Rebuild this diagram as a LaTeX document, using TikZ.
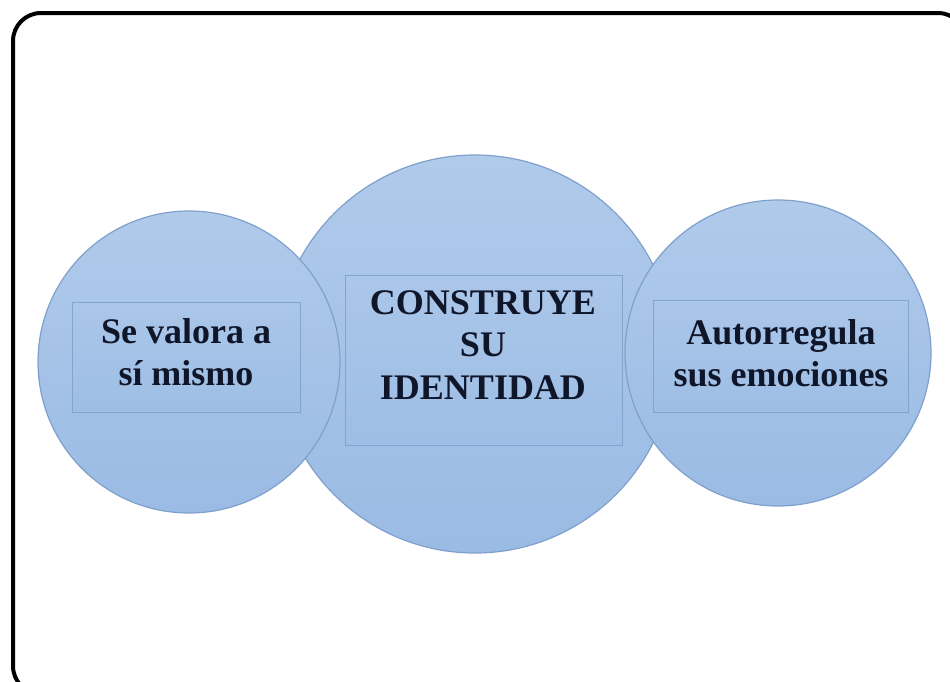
\documentclass[tikz,border=0pt]{standalone}
\usepackage{fontspec}
\setmainfont{Liberation Serif}
\definecolor{circtop}{RGB}{176,202,234}
\definecolor{circbot}{RGB}{154,187,228}
\definecolor{circedge}{RGB}{128,160,204}
\definecolor{recttop}{RGB}{170,198,233}
\definecolor{rectbot}{RGB}{158,190,229}
\definecolor{rectedge}{RGB}{132,164,208}
\definecolor{txt}{RGB}{16,22,42}
\begin{document}
\begin{tikzpicture}[x=1pt,y=-1pt,
  bubble/.style={circle,draw=circedge,line width=1.2pt,top color=circtop,bottom color=circbot,inner sep=0pt},
  box/.style={rectangle,draw=rectedge,line width=1pt,top color=recttop,bottom color=rectbot,inner sep=0pt},
  label/.style={text=txt,align=center,font=\fontsize{36}{42.5}\selectfont\bfseries,inner sep=0pt}]
\useasboundingbox (0,0) rectangle (950,681);
\fill[white] (0,0) rectangle (950,681);
\draw[line width=4pt,rounded corners=28pt] (13,13) rectangle (966,694);
% middle circle first, side circles on top
\node[bubble,minimum size=398pt] (cmid) at (475,354) {};
\node[bubble,minimum size=302pt] (cleft) at (189,362) {};
\node[bubble,minimum size=306pt] (cright) at (778,353) {};
% boxes
\node[box,minimum width=228pt,minimum height=110pt] (bleft) at (186,357) {};
\node[box,minimum width=277pt,minimum height=170pt] (bmid) at (483.5,360) {};
\node[box,minimum width=255pt,minimum height=112pt] (bright) at (780.5,356) {};
% texts
\node[label] (tleft) at (186,352) {Se valora a\\sí mismo};
\node[label] (tmid) at (483,345) {CONSTRUYE\\SU\\IDENTIDAD};
\node[label] (tright) at (781,353) {Autorregula\\sus emociones};
\end{tikzpicture}
\end{document}
